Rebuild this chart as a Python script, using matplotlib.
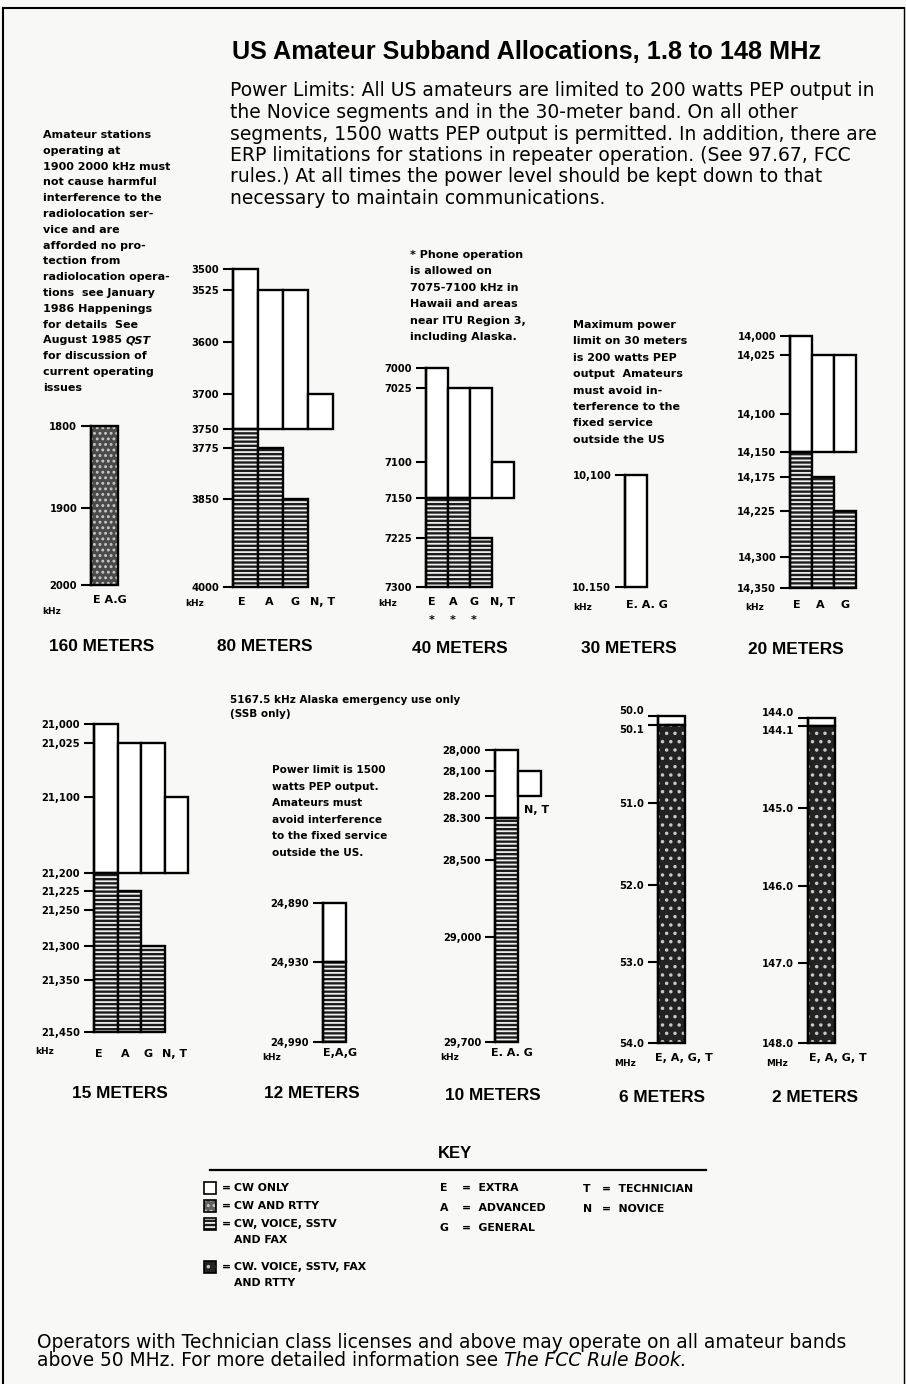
import numpy as np
import matplotlib.pyplot as plt
from matplotlib.patches import Rectangle
from matplotlib.lines import Line2D

W, H = 906, 1384

# ---------------- data ----------------
title = "US Amateur Subband Allocations, 1.8 to 148 MHz"
power_lines = [
    "Power Limits: All US amateurs are limited to 200 watts PEP output in",
    "the Novice segments and in the 30-meter band. On all other",
    "segments, 1500 watts PEP output is permitted. In addition, there are",
    "ERP limitations for stations in repeater operation. (See 97.67, FCC",
    "rules.) At all times the power level should be kept down to that",
    "necessary to maintain communications.",
]
note_160 = [
    "Amateur stations", "operating at", "1900 2000 kHz must", "not cause harmful",
    "interference to the", "radiolocation ser-", "vice and are", "afforded no pro-",
    "tection from", "radiolocation opera-", "tions  see January", "1986 Happenings",
    "for details  See", "August 1985", "for discussion of", "current operating", "issues",
]
note_40 = ["* Phone operation", "is allowed on", "7075-7100 kHz in",
           "Hawaii and areas", "near ITU Region 3,", "including Alaska."]
note_30 = ["Maximum power", "limit on 30 meters", "is 200 watts PEP", "output  Amateurs",
           "must avoid in-", "terference to the", "fixed service", "outside the US"]
note_12 = ["Power limit is 1500", "watts PEP output.", "Amateurs must",
           "avoid interference", "to the fixed service", "outside the US."]
note_alaska = ["5167.5 kHz Alaska emergency use only", "(SSB only)"]
footer_1 = "Operators with Technician class licenses and above may operate on all amateur bands"
footer_2 = "above 50 MHz. For more detailed information see"
footer_it = "The FCC Rule Book."

band_names = ["160 METERS", "80 METERS", "40 METERS", "30 METERS", "20 METERS",
              "15 METERS", "12 METERS", "10 METERS", "6 METERS", "2 METERS"]

b160_ticks = [1800, 1900, 2000]
b160_labels = ["1800", "1900", "2000"]
b160_cols = ["E A.G"]
b160_segs = [(0, 1800, 2000, "mixed")]

b80_ticks = [3500, 3525, 3600, 3700, 3750, 3775, 3850, 4000]
b80_labels = ["3500", "3525", "3600", "3700", "3750", "3775", "3850", "4000"]
b80_cols = ["E", "A", "G", "N, T"]
b80_segs = [(0, 3500, 3750, "cw"), (0, 3750, 4000, "phone"),
            (1, 3525, 3750, "cw"), (1, 3775, 4000, "phone"),
            (2, 3525, 3750, "cw"), (2, 3850, 4000, "phone"),
            (3, 3700, 3750, "cw")]

b40_ticks = [7000, 7025, 7100, 7150, 7225, 7300]
b40_labels = ["7000", "7025", "7100", "7150", "7225", "7300"]
b40_cols = ["E", "A", "G", "N, T"]
b40_segs = [(0, 7000, 7150, "cw"), (0, 7150, 7300, "phone"),
            (1, 7025, 7150, "cw"), (1, 7150, 7300, "phone"),
            (2, 7025, 7150, "cw"), (2, 7225, 7300, "phone"),
            (3, 7100, 7150, "cw")]

b30_ticks = [10100, 10150]
b30_labels = ["10,100", "10.150"]
b30_cols = ["E. A. G"]
b30_segs = [(0, 10100, 10150, "cw")]

b20_ticks = [14000, 14025, 14100, 14150, 14175, 14225, 14300, 14350]
b20_labels = ["14,000", "14,025", "14,100", "14,150", "14,175", "14,225", "14,300", "14,350"]
b20_cols = ["E", "A", "G"]
b20_segs = [(0, 14000, 14150, "cw"), (0, 14150, 14350, "phone"),
            (1, 14025, 14150, "cw"), (1, 14175, 14350, "phone"),
            (2, 14025, 14150, "cw"), (2, 14225, 14350, "phone")]

b15_ticks = [21000, 21025, 21100, 21200, 21225, 21250, 21300, 21350, 21450]
b15_labels = ["21,000", "21,025", "21,100", "21,200", "21,225", "21,250", "21,300", "21,350", "21,450"]
b15_cols = ["E", "A", "G", "N, T"]
b15_segs = [(0, 21000, 21200, "cw"), (0, 21200, 21450, "phone"),
            (1, 21025, 21200, "cw"), (1, 21225, 21450, "phone"),
            (2, 21025, 21200, "cw"), (2, 21300, 21450, "phone"),
            (3, 21100, 21200, "cw")]

b12_ticks = [24890, 24930, 24990]
b12_labels = ["24,890", "24,930", "24,990"]
b12_cols = ["E,A,G"]
b12_segs = [(0, 24890, 24930, "cw"), (0, 24930, 24990, "phone")]

b10_ticks = [28000, 28100, 28200, 28300, 28500, 29000, 29700]
b10_labels = ["28,000", "28,100", "28.200", "28.300", "28,500", "29,000", "29,700"]
b10_cols = ["E. A. G", "N, T"]
b10_segs = [(0, 28000, 28300, "cw"), (0, 28300, 29700, "phone"),
            (1, 28100, 28200, "cw")]

b6_ticks = [50.0, 50.1, 51.0, 52.0, 53.0, 54.0]
b6_labels = ["50.0", "50.1", "51.0", "52.0", "53.0", "54.0"]
b6_cols = ["E, A, G, T"]
b6_segs = [(0, 50.0, 50.1, "cw"), (0, 50.1, 54.0, "all")]

b2_ticks = [144.0, 144.1, 145.0, 146.0, 147.0, 148.0]
b2_labels = ["144.0", "144.1", "145.0", "146.0", "147.0", "148.0"]
b2_cols = ["E, A, G, T"]
b2_segs = [(0, 144.0, 144.1, "cw"), (0, 144.1, 148.0, "all")]

key_modes = ["CW ONLY", "CW AND RTTY", "CW, VOICE, SSTV\nAND FAX", "CW. VOICE, SSTV, FAX\nAND RTTY"]
key_classes = [("E", "EXTRA"), ("A", "ADVANCED"), ("G", "GENERAL")]
key_classes2 = [("T", "TECHNICIAN"), ("N", "NOVICE")]

# ---------------- styles ----------------
styles = {
    "cw": dict(face="white", hc="white", hatch=None),
    "phone": dict(face="#1c1c1c", hc="#eeeeee", hatch="----"),
    "all": dict(face="#232323", hc="#c8c8c8", hatch=".."),
    "mixed": dict(face="#4a4a4a", hc="#c8c8c8", hatch="..."),
    "rtty": dict(face="#606060", hc="#cccccc", hatch="..."),
}
key_styles = ["cw", "rtty", "phone", "all"]

plt.rcParams["font.family"] = "DejaVu Sans"
plt.rcParams["hatch.linewidth"] = 1.3

fig = plt.figure(figsize=(W / 100, H / 100), dpi=100)
fig.patch.set_facecolor("#f8f8f6")
renderer = fig.canvas.get_renderer()


def ftext(x, y, s, **kw):
    kw.setdefault("va", "center")
    return fig.text(x / W, 1 - y / H, s, **kw)


def fit(t, width):
    # scale a text so that it spans the given pixel width
    w = t.get_window_extent(renderer).width
    t.set_fontsize(t.get_fontsize() * width / w)
    return t.get_fontsize()


def right_px(t):
    return t.get_window_extent(renderer).x1


def draw_band(ticks, labels, segs, ncols, left, cw, ypix):
    ax = fig.add_axes([left / W, 1 - ypix[-1] / H, ncols * cw / W, (ypix[-1] - ypix[0]) / H])
    ax.patch.set_visible(False)
    fwd = lambda f: np.interp(f, ticks, ypix)
    inv = lambda p: np.interp(p, ypix, ticks)
    ax.set_yscale("function", functions=(fwd, inv))
    for col, lo, hi, mode in segs:
        st = styles[mode]
        ax.bar(col, hi - lo, bottom=lo, width=1, align="edge", color=st["face"],
               edgecolor=st["hc"], hatch=st["hatch"], lw=0, clip_on=False)
        ax.bar(col, hi - lo, bottom=lo, width=1, align="edge", fill=False,
               edgecolor="black", lw=1.7, clip_on=False)
    ax.set_xlim(0, ncols)
    ax.set_ylim(ticks[-1], ticks[0])
    ax.set_yticks(ticks, labels)
    ax.set_xticks([])
    for s in ["top", "right", "bottom"]:
        ax.spines[s].set_visible(False)
    ax.spines["left"].set_linewidth(1.7)
    ax.tick_params(axis="y", direction="out", length=7, width=1.5, pad=3,
                   labelsize=7.2, labelfontfamily="DejaVu Sans")
    tl = ax.get_yticklabels()
    for t in tl:
        t.set_fontweight("bold")
    for i in range(len(ypix) - 1):
        if ypix[i + 1] - ypix[i] < 12:
            tl[i].set_va("bottom")
            tl[i + 1].set_va("top")
    return ax


# ---------------- bands ----------------
bands = [
    (b160_ticks, b160_labels, b160_segs, b160_cols, dict(left=91, cw=27, ypix=[426, 508, 585])),
    (b80_ticks, b80_labels, b80_segs, b80_cols, dict(left=233, cw=25, ypix=[269, 290, 342, 394, 429, 448, 499, 587])),
    (b40_ticks, b40_labels, b40_segs, b40_cols, dict(left=426, cw=22, ypix=[368, 388, 462, 498, 538, 587])),
    (b30_ticks, b30_labels, b30_segs, b30_cols, dict(left=625, cw=22, ypix=[475, 587])),
    (b20_ticks, b20_labels, b20_segs, b20_cols, dict(left=790, cw=22, ypix=[336, 355, 414, 452, 477, 511, 557, 588])),
    (b15_ticks, b15_labels, b15_segs, b15_cols, dict(left=94, cw=23.5, ypix=[724, 743, 797, 873, 891, 910, 946, 980, 1032])),
    (b12_ticks, b12_labels, b12_segs, b12_cols, dict(left=323, cw=23, ypix=[903, 962, 1042])),
    (b10_ticks, b10_labels, b10_segs, b10_cols, dict(left=495, cw=23, ypix=[750, 771, 796, 818, 860, 937, 1042])),
    (b6_ticks, b6_labels, b6_segs, b6_cols, dict(left=658, cw=27, ypix=[716, 725, 803, 885, 962, 1043])),
    (b2_ticks, b2_labels, b2_segs, b2_cols, dict(left=808, cw=27, ypix=[718, 726, 808, 886, 963, 1043])),
]
for ticks, labels, segs, cols, lay in bands:
    draw_band(ticks, labels, segs, len(cols), **lay)

# column labels under the bars (x centres, y)
col_label_pos = [
    ([110], 600), ([242, 269, 295, 323], 602), ([432, 453, 474, 503], 602),
    ([647], 605), ([797, 820, 845], 605), ([99, 125, 148, 175], 1054),
    ([340], 1053), ([512], 1053), ([684], 1058), ([838], 1058),
]
for (ticks, labels, segs, cols, lay), (xs, y) in zip(bands, col_label_pos):
    for c, x in zip(cols, xs):
        ftext(x, y, c, ha="center", fontsize=8, weight="bold")
ftext(537, 810, "N, T", ha="center", fontsize=8, weight="bold")
for x in [432, 453, 474]:
    ftext(x, 620, "*", ha="center", fontsize=8, weight="bold")

unit_pos = [(52, 611, "kHz"), (195, 604, "kHz"), (388, 603, "kHz"), (583, 607, "kHz"),
            (755, 607, "kHz"), (45, 1052, "kHz"), (272, 1058, "kHz"), (450, 1058, "kHz"),
            (625, 1063, "MHz"), (777, 1063, "MHz")]
for x, y, u in unit_pos:
    ftext(x, y, u, ha="center", fontsize=6.5, weight="bold")

name_pos = [(102, 647), (265, 647), (460, 648), (629, 648), (796, 650),
            (120, 1093), (312, 1094), (493, 1096), (662, 1097), (815, 1098)]
for name, (x, y) in zip(band_names, name_pos):
    ftext(x, y, name, ha="center", fontsize=12.4, weight="bold", family="Liberation Sans")

# ---------------- text blocks ----------------
t = ftext(232, 52, title, fontsize=18, weight="bold", family="Liberation Sans")
fit(t, 590)
t = ftext(230, 91, power_lines[0], fontsize=13.5)
fs = fit(t, 645)
for i, s in enumerate(power_lines[1:], start=1):
    ftext(230, 91 + i * 21.5, s, fontsize=fs)

for i, s in enumerate(note_160):
    t = ftext(43, 135 + i * 15.8, s, fontsize=8, weight="bold")
    if s == "August 1985":
        ftext(right_px(t) + 4, 135 + i * 15.8, "QST", fontsize=8, weight="bold", style="italic")
for i, s in enumerate(note_40):
    ftext(410, 255 + i * 16.4, s, fontsize=8, weight="bold")
for i, s in enumerate(note_30):
    ftext(573, 325 + i * 16.4, s, fontsize=8, weight="bold")
for i, s in enumerate(note_12):
    ftext(272, 770 + i * 16.6, s, fontsize=7.6, weight="bold")
for i, s in enumerate(note_alaska):
    ftext(230, 700 + i * 14, s, fontsize=7.5, weight="bold")

# ---------------- key ----------------
ftext(455, 1153, "KEY", ha="center", fontsize=12, weight="bold", family="Liberation Sans")
fig.add_artist(Line2D([210 / W, 706 / W], [1 - 1170 / H] * 2, color="black", lw=1.6))
for lab, st, y in zip(key_modes, key_styles, [1188, 1206, 1224, 1267]):
    s = styles[st]
    fig.add_artist(Rectangle((204 / W, 1 - (y + 6) / H), 12 / W, 12 / H, facecolor=s["face"],
                             edgecolor=s["hc"], hatch=s["hatch"], lw=0))
    fig.add_artist(Rectangle((204 / W, 1 - (y + 6) / H), 12 / W, 12 / H, fill=False,
                             edgecolor="black", lw=1.2))
    ftext(222, y, "=", fontsize=7.8, weight="bold")
    for j, l in enumerate(lab.split("\n")):
        ftext(234, y + j * 16, l, fontsize=7.8, weight="bold")
for (k, v), y in zip(key_classes, [1188, 1208, 1228]):
    ftext(440, y, k, fontsize=7.8, weight="bold")
    ftext(462, y, "=  " + v, fontsize=7.8, weight="bold")
for (k, v), y in zip(key_classes2, [1189, 1209]):
    ftext(583, y, k, fontsize=7.8, weight="bold")
    ftext(602, y, "=  " + v, fontsize=7.8, weight="bold")

# ---------------- footer ----------------
t = ftext(37, 1342, footer_1, fontsize=13)
fs = fit(t, 809)
t2 = ftext(37, 1361, footer_2, fontsize=fs)
ftext(right_px(t2) + fs * 0.45, 1361, footer_it, fontsize=fs, style="italic")

# page frame
fig.add_artist(Line2D([3 / W, 3 / W], [0, 1 - 8 / H], color="black", lw=1.5))
fig.add_artist(Line2D([3 / W, 904 / W], [1 - 8 / H] * 2, color="black", lw=1.5))
fig.add_artist(Line2D([904 / W, 904 / W], [0, 1 - 8 / H], color="black", lw=1.0))

fig.savefig("out.png", dpi=100, facecolor=fig.get_facecolor())
